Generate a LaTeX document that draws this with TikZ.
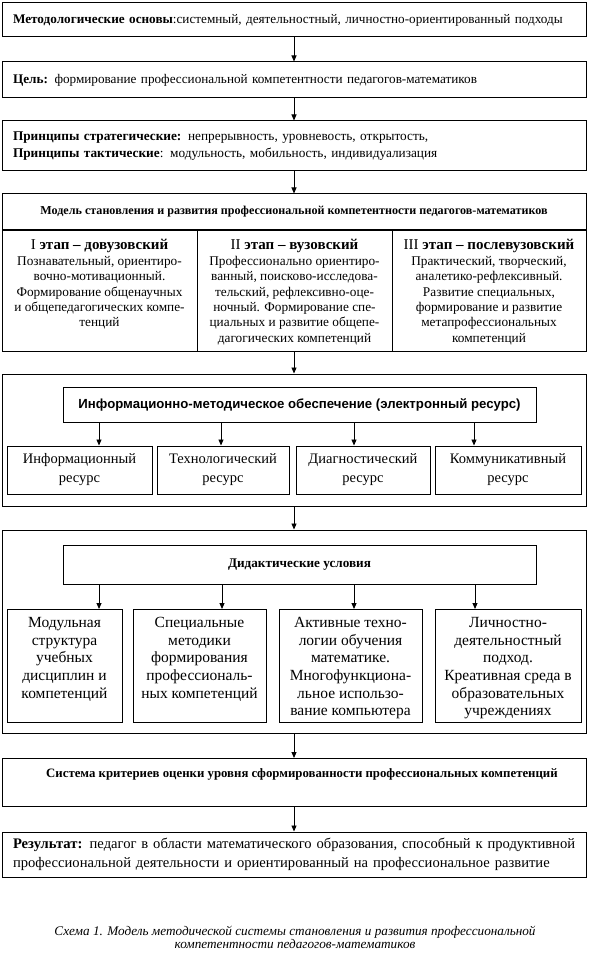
\documentclass[tikz,border=0pt]{standalone}
\usepackage{fontspec}
\setmainfont{Liberation Serif}
\newfontfamily\boxsans{Liberation Sans}
\usetikzlibrary{arrows.meta}

% text set at the top of a fixed-height cell
\newcommand{\topcell}[3]{\parbox[t][#2][t]{#1}{\centering #3}}
\newcommand{\stagehead}[2]{{\fontsize{15}{15}\selectfont #1 \textbf{#2}}\\[0.7pt]}

\begin{document}
\begin{tikzpicture}[
  x=1pt,y=-1pt,
  frame/.style={draw=black,line width=1pt,inner sep=0pt},
  wide/.style={frame,minimum width=584,text width=562,align=left},
  stage/.style={frame,anchor=north,inner ysep=8.7pt,minimum height=121,
    font=\fontsize{13.3}{15.3}\selectfont},
  res/.style={frame,minimum height=48,align=center,font=\fontsize{14.5}{19}\selectfont},
  cond/.style={frame,anchor=north,inner ysep=8pt,minimum height=113,
    font=\fontsize{15.5}{17.6}\selectfont},
  head/.style={frame,minimum width=473,align=center},
  flow/.style={draw=black,line width=.9pt,-{Triangle[length=6pt,width=5pt]}},
  caption/.style={align=center,font=\fontsize{13.2}{13}\selectfont\itshape}
]
\path[use as bounding box] (0,0) rectangle (594,965);

\node[wide,minimum height=34,font=\fontsize{13.2}{15}\selectfont] (basis) at (294,20)
  {\textbf{Методологические основы}:системный, деятельностный, личностно-ориентированный подходы};
\node[wide,minimum height=36,font=\fontsize{13.2}{15}\selectfont] (goal) at (294,80)
  {\textbf{Цель:} формирование профессиональной компетентности педагогов-математиков};
\node[wide,minimum height=50,font=\fontsize{13.3}{16.5}\selectfont] (princ) at (294,146)
  {\textbf{Принципы стратегические:} непрерывность, уровневость, открытость,\\
   \textbf{Принципы тактические}: модульность, мобильность, индивидуализация};

% model and its three stages
\node[frame,minimum width=584,minimum height=36,font=\fontsize{12.1}{13}\selectfont\bfseries]
  (model) at (294,212) {Модель становления и развития профессиональной компетентности педагогов-математиков};
\node[stage,minimum width=195] (stage1) at (99.5,230) {\topcell{190pt}{103.6pt}{%
  \stagehead{I}{этап – довузовский}
  Познавательный, ориентиро-\\вочно-мотивационный.\\Формирование общенаучных\\
  и общепедагогических компе-\\тенций}};
\node[stage,minimum width=195] (stage2) at (294.5,230) {\topcell{190pt}{103.6pt}{%
  \stagehead{II}{этап – вузовский}
  Профессионально ориентиро-\\ванный, поисково-исследова-\\тельский, рефлексивно-оце-\\
  ночный. Формирование спе-\\циальных и развитие общепе-\\дагогических компетенций}};
\node[stage,minimum width=194] (stage3) at (489,230) {\topcell{190pt}{103.6pt}{%
  \stagehead{III}{этап – послевузовский}
  Практический, творческий,\\аналетико-рефлексивный.\\Развитие специальных,\\
  формирование и развитие\\метапрофессиональных\\компетенций}};

% information support
\node[frame,minimum width=584,minimum height=132] (resframe) at (294,440) {};
\node[head,minimum height=35,font=\boxsans\fontsize{13.2}{15}\selectfont\bfseries] (info) at (299.5,404.5)
  {Информационно-методическое обеспечение (электронный ресурс)};
\node[res,minimum width=145] (res1) at (79.5,470) {Информационный\\ресурс};
\node[res,minimum width=132] (res2) at (223,470) {Технологический\\ресурс};
\node[res,minimum width=134] (res3) at (363,470) {Диагностический\\ресурс};
\node[res,minimum width=146] (res4) at (508,470) {Коммуникативный\\ресурс};

% didactic conditions
\node[frame,minimum width=584,minimum height=203] (condframe) at (294,631.5) {};
\node[head,minimum height=39,font=\fontsize{13.2}{14}\selectfont\bfseries] (condhead) at (299.5,564.5)
  {Дидактические условия};
\node[cond,minimum width=115] (cond1) at (64.5,609) {\topcell{113pt}{97pt}{%
  Модульная\\структура\\учебных\\дисциплин и\\компетенций}};
\node[cond,minimum width=133] (cond2) at (199.5,609) {\topcell{131pt}{97pt}{%
  Специальные\\методики\\формирования\\профессиональ-\\ных компетенций}};
\node[cond,minimum width=143] (cond3) at (350.5,609) {\topcell{141pt}{97pt}{%
  Активные техно-\\логии обучения\\математике.\\Многофункциона-\\льное использо-\\вание компьютера}};
\node[cond,minimum width=146] (cond4) at (508,609) {\topcell{144pt}{97pt}{%
  Личностно-\\деятельностный\\подход.\\Креативная среда в\\образовательных\\учреждениях}};

\node[frame,anchor=north,minimum width=584,inner ysep=10.5pt,font=\fontsize{12.8}{14}\selectfont] (criteria) at (294,758)
  {\topcell{574pt}{27pt}{\hspace*{16pt}\textbf{Система критериев оценки уровня сформированности профессиональных компетенций}}};
\node[wide,minimum height=45,font=\fontsize{14.6}{19}\selectfont] (result) at (294,854.5)
  {\mbox{\textbf{Результат:} педагог в области математического образования, способный к продуктивной}\\
   \mbox{профессиональной деятельности и ориентированный на профессиональное развитие}};

\node[caption] (cap) at (295,937)
  {Схема 1. Модель методической системы становления и развития профессиональной\\
   компетентности педагогов-математиков};

% connectors
\draw[flow] (basis) -- (goal);
\draw[flow] (goal) -- (princ);
\draw[flow] (princ) -- (model);
\draw[flow] (resframe.north |- stage2.south) -- (resframe);
\draw[flow] (resframe) -- (condframe);
\draw[flow] (condframe) -- (criteria);
\draw[flow] (criteria) -- (result);
\foreach \ax/\rb in {99/res1,221/res2,354/res3,474/res4}
  \draw[flow] (\ax,0 |- info.south) -- (\ax,0 |- \rb.north);
\foreach \ax/\cb in {99/cond1,222/cond2,354/cond3,475/cond4}
  \draw[flow] (\ax,0 |- condhead.south) -- (\ax,0 |- \cb.north);
\end{tikzpicture}
\end{document}
